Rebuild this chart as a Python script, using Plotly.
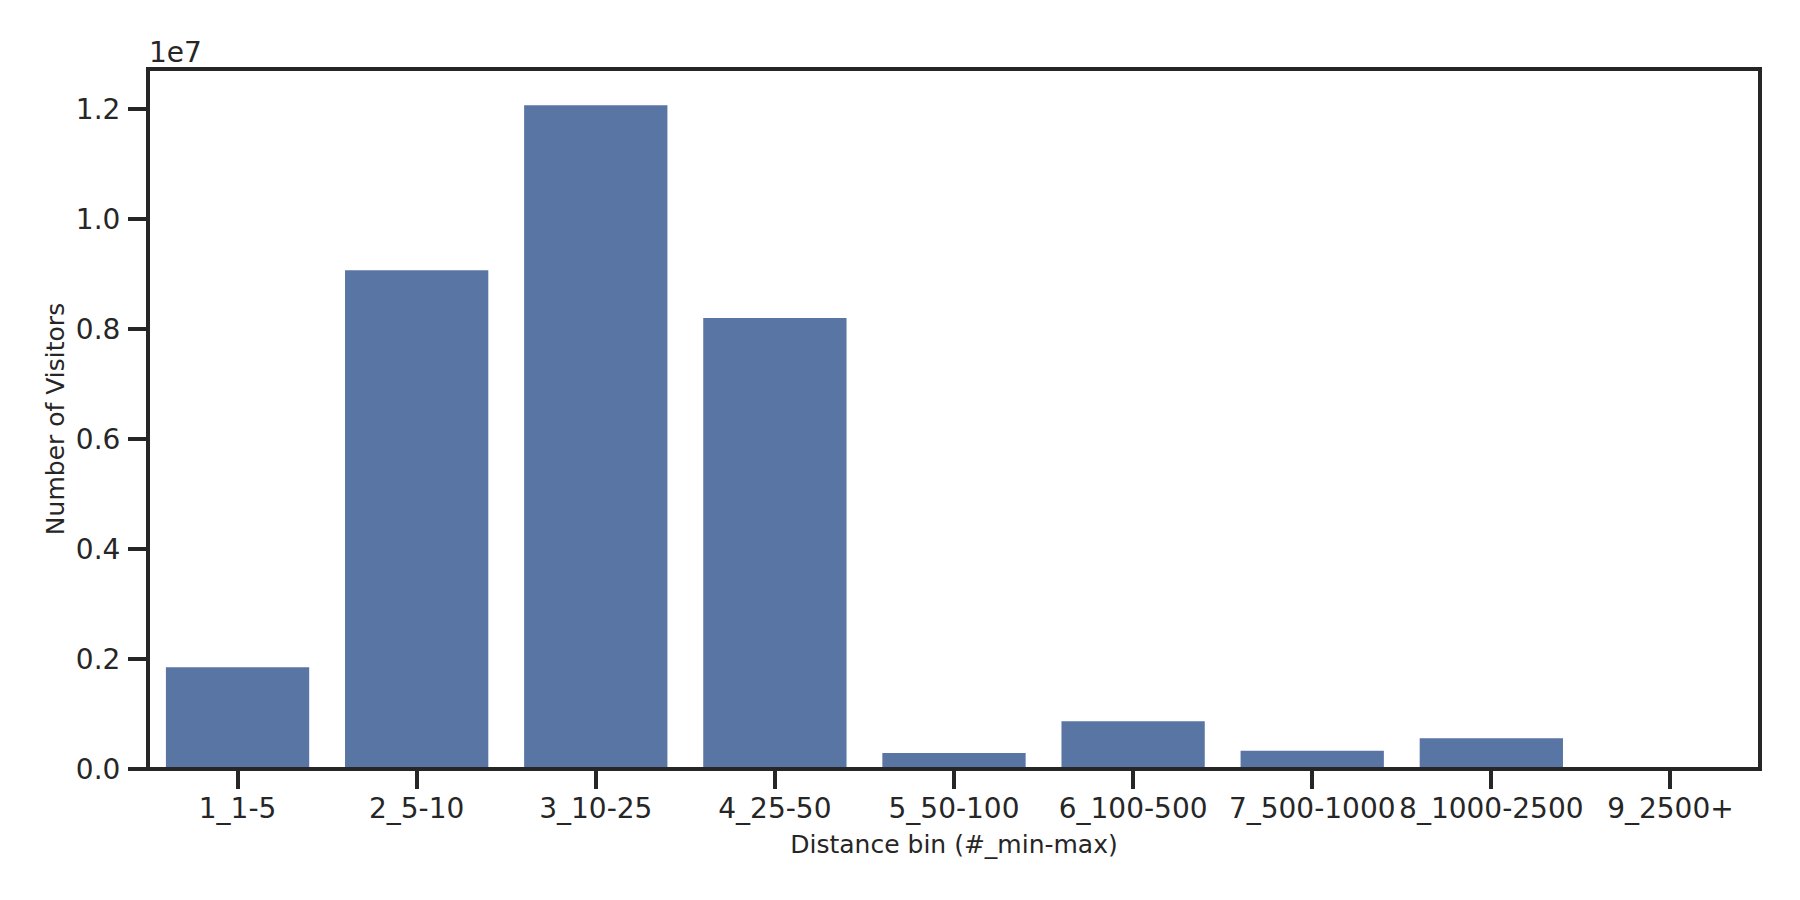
import plotly.graph_objects as go

# distance bins and visitor counts
bins = ["1_1-5", "2_5-10", "3_10-25", "4_25-50", "5_50-100",
        "6_100-500", "7_500-1000", "8_1000-2500", "9_2500+"]
visitors = [1850000, 9070000, 12070000, 8200000, 290000,
            870000, 330000, 560000, 0]

y_ticks = [0, 2e6, 4e6, 6e6, 8e6, 10e6, 12e6]
y_tick_text = ["%.1f" % (v / 1e7) for v in y_ticks]

INK = "#262626"
BAR = "#5975a4"

fig = go.Figure()

fig.add_trace(go.Bar(
    x=bins,
    y=visitors,
    marker=dict(color=BAR, line=dict(width=0)),
    showlegend=False,
))

# page body adds an 8px margin, so the figure is shrunk by 8px to fit 1800x900
fig.update_layout(
    width=1792,
    height=892,
    margin=dict(l=140, r=40, t=61, b=131),
    plot_bgcolor="white",
    paper_bgcolor="white",
    font=dict(family="DejaVu Sans", color=INK, size=28),
    bargap=0.2,
    xaxis=dict(
        title=dict(text="Distance bin (#_min-max)", font=dict(size=25), standoff=11),
        showline=False,
        ticks="outside", ticklen=19, tickwidth=4, tickcolor=INK,
        showgrid=False, zeroline=False,
        tickfont=dict(size=28),
        ticklabelstandoff=-5,
        automargin=False,
    ),
    yaxis=dict(
        title=dict(text="Number of Visitors", font=dict(size=25), standoff=4),
        range=[0, 1.2727e7],
        tickvals=y_ticks, ticktext=y_tick_text,
        showline=False,
        ticks="outside", ticklen=19, tickwidth=4, tickcolor=INK,
        showgrid=False, zeroline=False,
        tickfont=dict(size=28),
        ticklabelstandoff=2,
        automargin=False,
    ),
)

# frame centred on the data edges, like matplotlib spines
fig.add_shape(
    type="rect", xref="paper", yref="paper", x0=0, x1=1, y0=0, y1=1,
    line=dict(color=INK, width=4), layer="above",
)

# matplotlib-style offset text
fig.add_annotation(
    text="1e7", xref="paper", yref="paper", x=0, y=1,
    xanchor="left", yanchor="bottom", yshift=-2, xshift=-1,
    showarrow=False, font=dict(size=28, color=INK),
)

fig.write_html("out.html")
